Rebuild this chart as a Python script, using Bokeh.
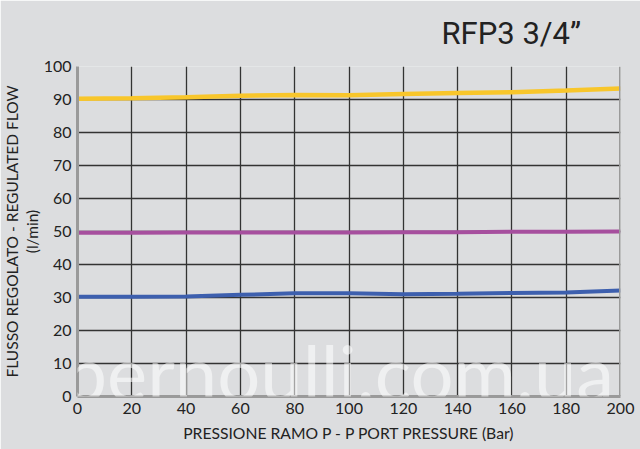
from bokeh.plotting import figure
from bokeh.models import Range1d, FixedTicker, Label, Span, Title
from bokeh.embed import file_html
from bokeh.resources import INLINE

pressure = [0, 20, 40, 60, 80, 100, 120, 140, 160, 180, 200]
flow_yellow = [90.2, 90.4, 90.7, 91.1, 91.4, 91.3, 91.7, 92.0, 92.2, 92.7, 93.3]
flow_magenta = [49.6, 49.6, 49.7, 49.7, 49.7, 49.7, 49.8, 49.8, 49.9, 49.9, 50.0]
flow_blue = [30.2, 30.2, 30.3, 30.8, 31.3, 31.3, 31.0, 31.1, 31.4, 31.5, 32.1]
x_ticks = list(range(0, 201, 20))
y_ticks = list(range(0, 101, 10))

BG = "#dcdddf"
FONT = "Lato"
W, H = 640, 449
FL, FB = 73, 396  # frame left / bottom in page pixels

p = figure(width=W, height=H, output_backend="svg", toolbar_location=None,
           x_range=Range1d(0, 200), y_range=Range1d(0, 100),
           min_border_left=FL, min_border_right=20, min_border_top=66, min_border_bottom=H - FB)
p.background_fill_color = BG
p.border_fill_color = BG
p.outline_line_color = None

for ax in (p.xaxis[0], p.yaxis[0]):
    ax.axis_line_color = "#9a9a9a"
    ax.axis_line_width = 3
    ax.major_tick_line_color = None
    ax.minor_tick_line_color = None
    ax.major_tick_out = 0
    ax.major_tick_in = 0
    ax.major_label_text_font = FONT
    ax.major_label_text_font_size = "16px"
    ax.major_label_text_color = "#222222"

p.xaxis.ticker = FixedTicker(ticks=x_ticks)
p.yaxis.ticker = FixedTicker(ticks=y_ticks)
p.xaxis.major_label_standoff = 6
p.yaxis.major_label_standoff = 6
p.xaxis.axis_label = "PRESSIONE RAMO P - P PORT PRESSURE (Bar)"
p.xaxis.axis_label_text_font = FONT
p.xaxis.axis_label_text_font_style = "normal"
p.xaxis.axis_label_text_font_size = "15.7px"
p.xaxis.axis_label_text_color = "#222222"
p.xaxis.axis_label_standoff = 7

for g in (p.xgrid[0], p.ygrid[0]):
    g.grid_line_color = "#333333"
    g.grid_line_width = 1.3

p.add_layout(Span(location=200, dimension="height", line_color="#9a9a9a", line_width=3))

p.line(pressure, flow_yellow, line_color="#f8c62b", line_width=4.5)
p.line(pressure, flow_magenta, line_color="#a64f9e", line_width=4)
p.line(pressure, flow_blue, line_color="#3d5fae", line_width=4)

# chart title (top right)
p.add_layout(Title(text="RFP3 3/4\u201d", align="left", offset=364, standoff=26,
                   vertical_align="top",
                   text_font="Roboto", text_font_size="31px",
                   text_font_style="normal", text_color="#222222"), "above")

# y-axis label, two lines
p.add_layout(Title(text="(l/min)", align="center", offset=-12, standoff=0,
                   text_font=FONT, text_font_size="15.5px",
                   text_font_style="normal", text_color="#222222"), "left")
p.add_layout(Title(text="FLUSSO REGOLATO - REGULATED FLOW", align="left", offset=19, standoff=0,
                   text_font=FONT, text_font_size="15.5px",
                   text_font_style="normal", text_color="#222222"), "left")

# watermark
p.add_layout(Label(x=60 - FL, y=25, x_units="screen", y_units="screen",
                   text="bernoulli.com.ua",
                   text_font=FONT, text_font_size="76px", text_color="white", text_alpha=0.55,
                   text_baseline="alphabetic", text_align="left"))

open("out.html", "w").write(file_html(p, INLINE))
